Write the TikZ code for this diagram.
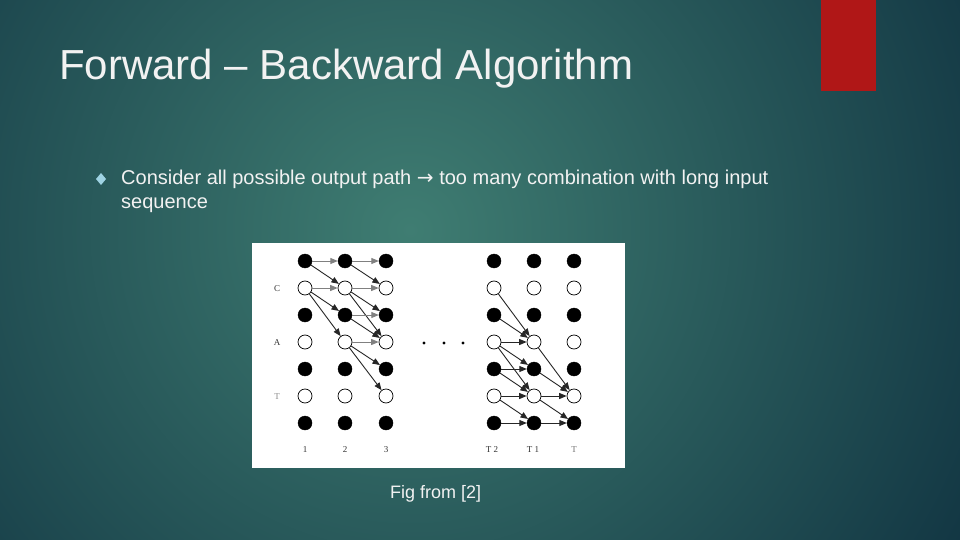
\documentclass[tikz,border=0pt]{standalone}
\usepackage{fontspec}
\setmainfont{Liberation Sans}
\newfontfamily\seriffont{Liberation Serif}
\newfontfamily\symfont{DejaVu Sans}
\usetikzlibrary{arrows.meta}
\definecolor{bgout}{HTML}{123643}
\definecolor{bgin}{HTML}{3F7D72}
\definecolor{barred}{HTML}{B01717}
\definecolor{bulletblue}{HTML}{9FD3E3}
\definecolor{txt}{HTML}{F2F2F2}
\begin{document}
\begin{tikzpicture}[x=1pt,y=-1pt,
  fullnode/.style={circle,fill=black,draw=black,minimum size=14pt,inner sep=0pt},
  opennode/.style={circle,fill=white,draw=black,line width=0.7pt,minimum size=14pt,inner sep=0pt},
  edge/.style={draw=black!85,line width=0.9pt,-{Triangle[length=7.5pt,width=6pt]}},
  grayedge/.style={edge,draw=black!50},
  lab/.style={font=\seriffont\fontsize{9}{10}\selectfont,text=black!80},
  title/.style={anchor=base west,text=txt,font=\fontsize{42}{48}\selectfont,inner sep=0pt},
  body/.style={anchor=base west,text=txt,font=\fontsize{20}{24}\selectfont,inner sep=0pt}]
\useasboundingbox (0,0) rectangle (960,540);
\begin{scope}
  \clip (0,0) rectangle (960,540);
  \fill[bgout] (0,0) rectangle (960,540);
  \shade[inner color=bgin,outer color=bgout] (410,230) circle (640);
\end{scope}
\fill[barred] (821,0) rectangle (876,91);
\node[title] (title) at (59,80) {Forward – Backward Algorithm};
\fill[bulletblue] (101,173) -- (106,179) -- (101,185) -- (96,179) -- cycle;
\node[body] (l1) at (121,185) {Consider all possible output path {\symfont→} too many combination with long input};
\node[body] (l2) at (121,208) {sequence};
\fill[white] (252,243) rectangle (625,468);
% grid
\foreach \c/\x in {1/305,2/345,3/386,4/494,5/534,6/574}{
  \foreach \r/\y in {0/261,2/315,4/369,6/423}{
    \node[fullnode] (n\c-\r) at (\x,\y) {};
  }
  \foreach \r/\y in {1/288,3/342,5/396}{
    \node[opennode] (n\c-\r) at (\x,\y) {};
  }
}
\node[lab] (lc) at (277,289) {C};
\node[lab] (la) at (277,343) {A};
\node[lab,text=black!45] (lt) at (277,397) {T};
\node[lab] (c1) at (305,450) {1};
\node[lab] (c2) at (345,450) {2};
\node[lab] (c3) at (386,450) {3};
\node[lab] (c4) at (492,450) {T 2};
\node[lab] (c5) at (533,450) {T 1};
\node[lab,text=black!55] (c6) at (574,450) {T};
\foreach \x in {424,444,463}{\fill[black] (\x,343) circle (1.6);}
% left edges
\foreach \a/\b in {0/1,1/2,1/3}{\draw[edge] (n1-\a) -- (n2-\b);}
\foreach \a/\b in {0/0,1/1}{\draw[grayedge] (n1-\a) -- (n2-\b);}
\foreach \a/\b in {0/1,1/2,1/3,2/3,3/4,3/5}{\draw[edge] (n2-\a) -- (n3-\b);}
\foreach \a/\b in {0/0,1/1,2/2,3/3}{\draw[grayedge] (n2-\a) -- (n3-\b);}
% right edges
\foreach \a/\b in {1/3,2/3,3/3,3/4,3/5,4/4,4/5,5/5,5/6,6/6}{\draw[edge] (n4-\a) -- (n5-\b);}
\foreach \a/\b in {3/5,4/5,5/5,5/6,6/6}{\draw[edge] (n5-\a) -- (n6-\b);}
\node[anchor=base west,text=txt,font=\fontsize{18}{22}\selectfont,inner sep=0pt] (fig) at (390,498) {Fig from [2]};
\end{tikzpicture}
\end{document}
